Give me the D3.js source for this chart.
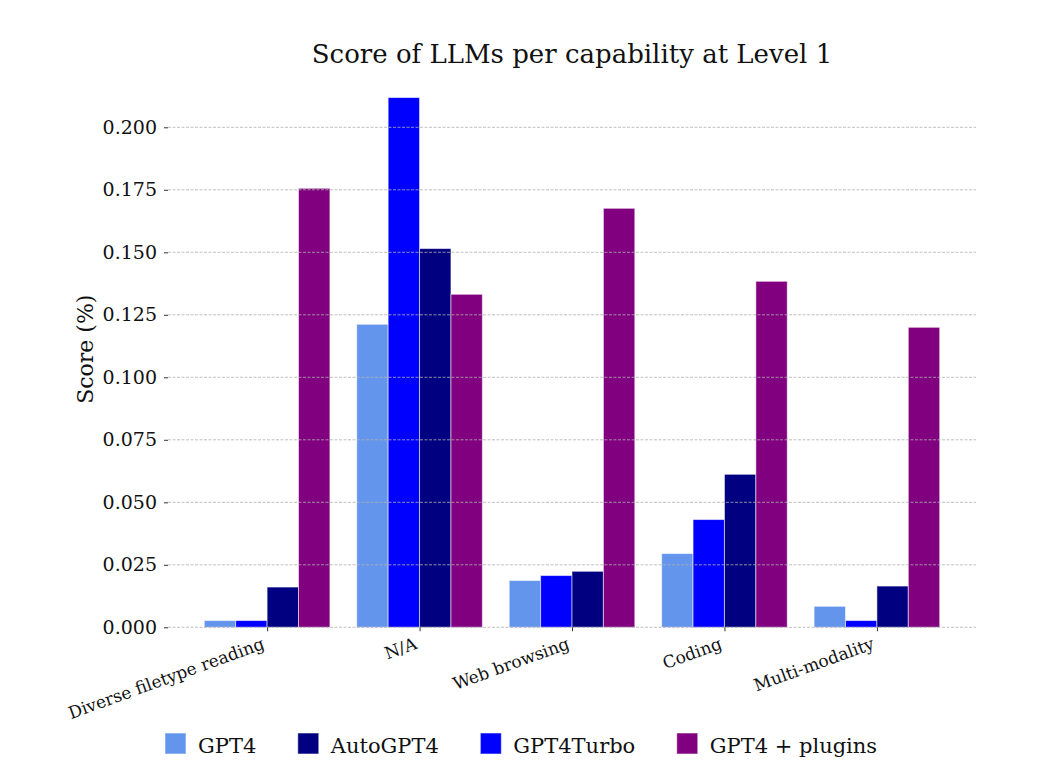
<!DOCTYPE html>
<html>
<head>
<meta charset="utf-8">
<script src="https://cdn.jsdelivr.net/npm/d3@7"></script>
<style>
  body { margin: 0; background: #fff; }
  svg { display: block; font-family: "DejaVu Serif", serif; }
</style>
</head>
<body>
<svg id="chart" width="1054" height="777"></svg>
<script>
// ---- data ----
const categories = ["Diverse filetype reading", "N/A", "Web browsing", "Coding", "Multi-modality"];
const seriesNames = ["GPT4", "GPT4Turbo", "AutoGPT4", "GPT4 + plugins"];
const gpt4 = [0.0027, 0.1212, 0.0187, 0.0295, 0.0084];
const gpt4Turbo = [0.0027, 0.2119, 0.0207, 0.0431, 0.0027];
const autoGpt4 = [0.0161, 0.1515, 0.0224, 0.0612, 0.0165];
const gpt4Plugins = [0.1756, 0.1332, 0.1676, 0.1384, 0.1200];
const yTicks = [0, 0.025, 0.05, 0.075, 0.1, 0.125, 0.15, 0.175, 0.2];
const legendOrder = ["GPT4", "AutoGPT4", "GPT4Turbo", "GPT4 + plugins"];
const chartTitle = "Score of LLMs per capability at Level 1";
const yLabel = "Score (%)";

const seriesValues = [gpt4, gpt4Turbo, autoGpt4, gpt4Plugins];
const colors = { "GPT4": "#6495ED", "GPT4Turbo": "#0000FF", "AutoGPT4": "#000080", "GPT4 + plugins": "#800080" };

// ---- layout ----
const svg = d3.select("#chart");
const plotLeft = 168, plotRight = 976, plotBottom = 627.3;
const barW = 0.206;
const allVals = seriesValues.flat();
const yMax = d3.max(allVals) * 1.05;

const x = d3.scaleLinear().domain([-0.65, categories.length - 1 + 0.65]).range([plotLeft, plotRight]);
const y = d3.scaleLinear().domain([0, yMax]).range([plotBottom, plotBottom - yMax * 2500]);
const plotTop = y(yMax);

// bars
const barData = [];
seriesNames.forEach((s, si) => {
  categories.forEach((c, ci) => {
    barData.push({ s, ci, si, v: seriesValues[si][ci] });
  });
});
svg.append("g").selectAll("rect").data(barData).join("rect")
  .attr("x", d => x(d.ci + (d.si - 1.5) * barW - barW / 2))
  .attr("width", d => x(barW) - x(0))
  .attr("y", d => y(d.v))
  .attr("height", d => y(0) - y(d.v))
  .attr("fill", d => colors[d.s])
  .attr("stroke", "#fff")
  .attr("stroke-opacity", 0.55)
  .attr("stroke-width", 1);

// grid (on top of bars)
svg.append("g").selectAll("line").data(yTicks).join("line")
  .attr("x1", plotLeft).attr("x2", plotRight)
  .attr("y1", d => y(d)).attr("y2", d => y(d))
  .attr("stroke", "#b0b0b0")
  .attr("stroke-width", 0.8)
  .attr("stroke-dasharray", "3,1.5");

// y axis
const yAxis = d3.axisLeft(y).tickValues(yTicks).tickFormat(d3.format(".3f")).tickSize(4).tickPadding(7);
const yg = svg.append("g").attr("transform", `translate(${plotLeft},0)`).call(yAxis);
yg.select(".domain").remove();
yg.selectAll(".tick line").attr("stroke", "#333");
yg.selectAll(".tick text").attr("font-family", "DejaVu Serif").attr("font-size", 19).attr("fill", "#111");

// x axis
const xAxis = d3.axisBottom(x).tickValues(d3.range(categories.length)).tickFormat(i => categories[i]).tickSize(4);
const xg = svg.append("g").attr("transform", `translate(0,${plotBottom})`).call(xAxis);
xg.select(".domain").remove();
xg.selectAll(".tick line").attr("stroke", "#333");
xg.selectAll(".tick text")
  .attr("font-family", "DejaVu Serif").attr("font-size", 17).attr("fill", "#111")
  .attr("text-anchor", "end")
  .attr("dy", null).attr("y", null)
  .attr("transform", "translate(-2,21) rotate(-20)");

// title
svg.append("text").attr("x", (plotLeft + plotRight) / 2).attr("y", 63)
  .attr("text-anchor", "middle").attr("font-size", 26).attr("fill", "#111").text(chartTitle);

// y label
svg.append("text").attr("transform", `translate(93,${(plotTop + plotBottom) / 2}) rotate(-90)`)
  .attr("text-anchor", "middle").attr("font-size", 22).attr("fill", "#111").text(yLabel);

// legend
const lg = svg.append("g");
let lx = 165;
legendOrder.forEach(name => {
  lg.append("rect").attr("x", lx).attr("y", 733).attr("width", 21).attr("height", 21)
    .attr("fill", colors[name]).attr("stroke", "#fff").attr("stroke-opacity", 0.55);
  const t = lg.append("text").attr("x", lx + 33).attr("y", 753)
    .attr("font-size", 21).attr("fill", "#111").text(name);
  lx += 33 + t.node().getComputedTextLength() + 41.5;
});
</script>
</body>
</html>
